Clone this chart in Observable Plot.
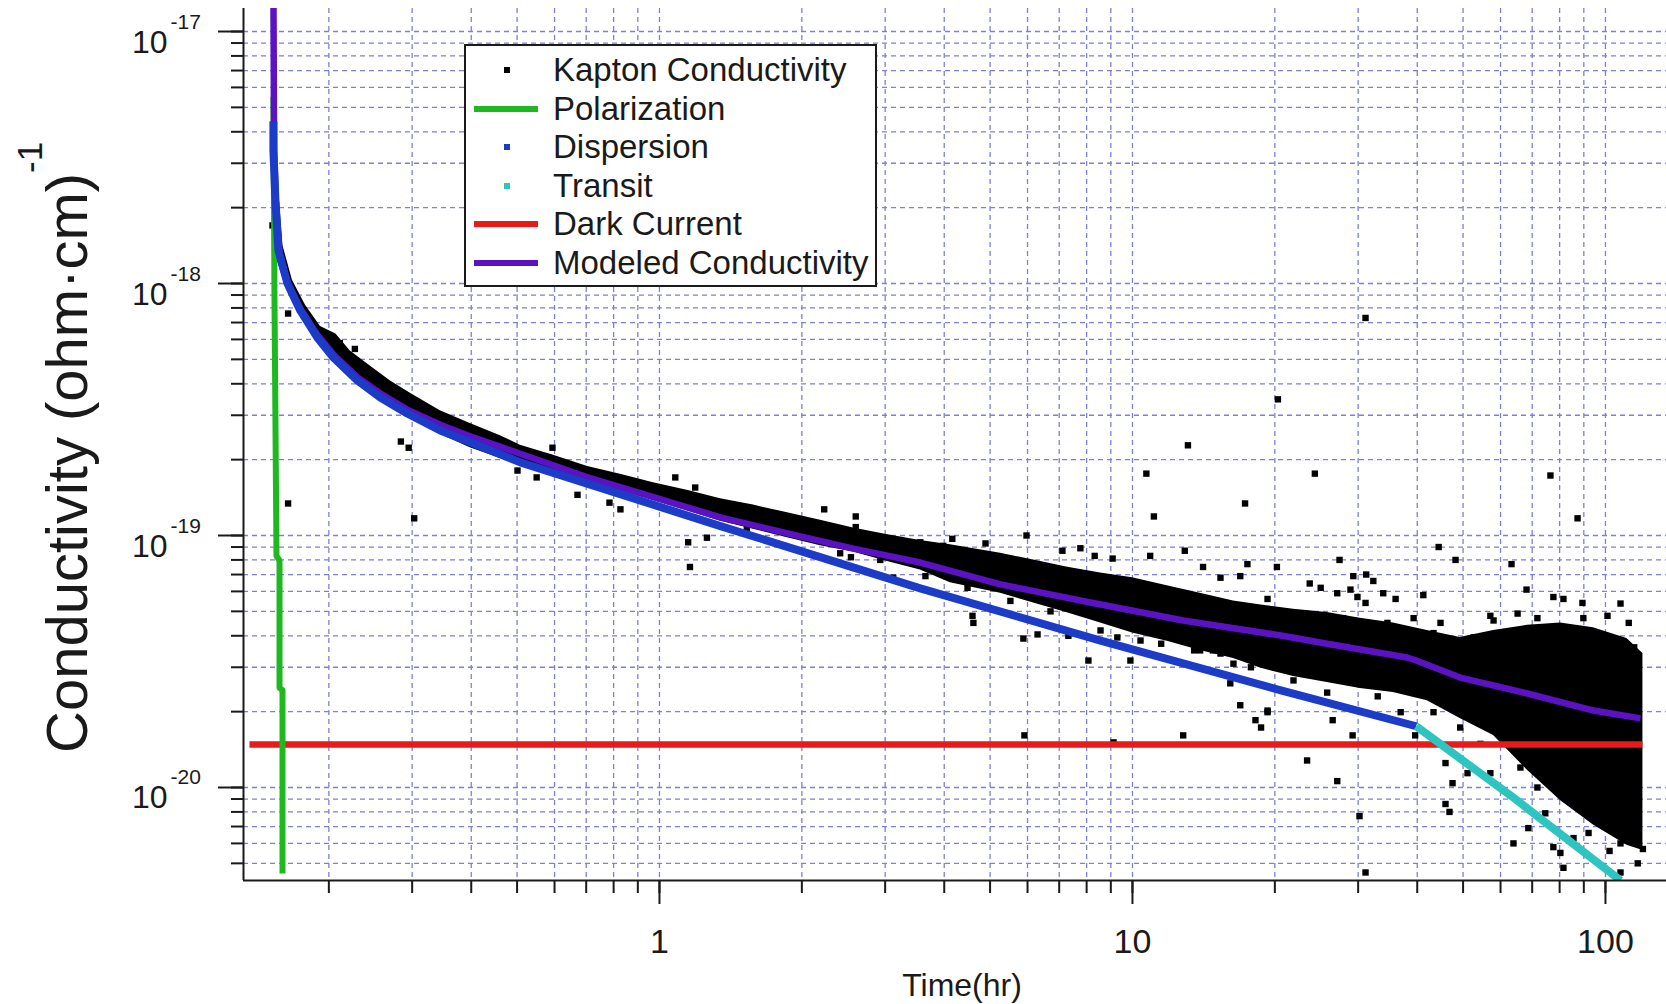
<!DOCTYPE html>
<html>
<head>
<meta charset="utf-8">
<script src="https://cdn.jsdelivr.net/npm/d3@7"></script>
<script src="https://cdn.jsdelivr.net/npm/@observablehq/plot@0.6"></script>
<style>
  html, body { margin: 0; padding: 0; background: #fff; }
  #wrap { position: relative; width: 1666px; height: 1004px; overflow: hidden;
          font-family: "Liberation Sans", Arial, Helvetica, sans-serif; color: #1a1a1a; }
  #legend { position: absolute; left: 464px; top: 44px; width: 413px; height: 243px;
            box-sizing: border-box; border: 2px solid #1a1a1a; background: #fff; }
  .row { position: absolute; left: 0; height: 40px; width: 100%; }
  .lab { position: absolute; left: 87px; top: 0; line-height: 40px; font-size: 33px; white-space: nowrap; }
  .sym-line { position: absolute; left: 8px; top: 17px; width: 64px; height: 6px; }
  .sym-sq { position: absolute; left: 38px; top: 17px; width: 6px; height: 6px; }
</style>
</head>
<body>
<div id="wrap"></div>
<script>
// ---------------- data ----------------
const xDomain = [0.132, 134.6];            // hours
const yDomain = [4.275e-21, 1.234e-17];    // (ohm·cm)^-1

// Kapton conductivity: dense core of the measured cloud (time, lower edge, upper edge)
const kaptonBandTime = [0.155,0.1573,0.160,0.1675,0.1785,0.192,0.207,0.222,0.245,0.270,0.298,0.344,0.398,0.461,0.508,0.597,0.705,0.827,0.971,1.15,1.346,1.58,1.865,2.19,2.57,3.02,3.56,4.12,5.26,6.18,7.25,8.56,10.0,11.9,13.9,16.35,18.7,21.9,25.8,30.3,35.6,42.0,49.3,58.0,68.4,80.3,94.3,111,120];
const kaptonBandHigh = [3.4e-18,2.13e-18,1.41e-18,1.03e-18,8.2e-19,6.75e-19,6.3e-19,5.4e-19,4.7e-19,4.1e-19,3.66e-19,3.13e-19,2.78e-19,2.49e-19,2.28e-19,2.08e-19,1.88e-19,1.75e-19,1.62e-19,1.51e-19,1.40e-19,1.32e-19,1.23e-19,1.15e-19,1.07e-19,1.01e-19,9.55e-20,9.2e-20,8.5e-20,8.0e-20,7.5e-20,7.1e-20,6.8e-20,6.3e-20,5.9e-20,5.5e-20,5.3e-20,5.1e-20,4.95e-20,4.7e-20,4.5e-20,4.2e-20,3.94e-20,4.2e-20,4.4e-20,4.5e-20,4.3e-20,3.9e-20,3.4e-20];
const kaptonBandLow = [1.86e-18,1.33e-18,1.15e-18,9.0e-19,7.1e-19,5.9e-19,4.9e-19,4.35e-19,3.76e-19,3.31e-19,2.91e-19,2.52e-19,2.23e-19,2.02e-19,1.91e-19,1.81e-19,1.62e-19,1.51e-19,1.38e-19,1.25e-19,1.14e-19,1.06e-19,9.8e-20,9.1e-20,8.6e-20,7.9e-20,7.3e-20,6.5e-20,5.9e-20,5.4e-20,4.95e-20,4.5e-20,4.1e-20,3.8e-20,3.5e-20,3.25e-20,2.97e-20,2.76e-20,2.61e-20,2.47e-20,2.38e-20,2.21e-20,1.88e-20,1.61e-20,1.17e-20,8.87e-21,7.1e-21,5.9e-21,5.62e-21];

// Kapton conductivity: individual scattered readings [time, conductivity]
const kaptonPoints = [
  [0.164,7.6e-19],[0.211,5.8e-19],[0.227,5.5e-19],[0.284,2.36e-19],[0.295,2.23e-19],[0.302,3.31e-19],
  [0.433,2.45e-19],[0.594,2.23e-19],[0.501,1.81e-19],[0.152,1.70e-18],[0.164,1.34e-19],[0.303,1.17e-19],
  [0.550,1.70e-19],[0.671,1.45e-19],[0.784,1.35e-19],[0.827,1.27e-19],[1.15,9.4e-20],[1.26,9.8e-20],
  [1.16,7.5e-20],[1.53,1.06e-19],[2.23,1.27e-19],[2.60,1.19e-19],[2.60,1.08e-19],[2.41,8.5e-20],
  [2.54,8.2e-20],[2.93,8.0e-20],[3.12,6.8e-20],[1.08,1.70e-19],[1.19,1.55e-19],
  [13.1,2.28e-19],[10.7,1.76e-19],[11.1,1.19e-19],[17.3,1.34e-19],[5.97,1.0e-19],[4.89,9.3e-20],
  [4.16,9.7e-20],[7.11,8.7e-20],[7.76,8.9e-20],[8.32,8.3e-20],[9.08,8.1e-20],[12.9,8.7e-20],
  [14.1,7.5e-20],[17.5,7.7e-20],[16.9,6.9e-20],[20.2,7.5e-20],
  [4.59,4.8e-20],[4.61,4.5e-20],[5.88,3.9e-20],[6.30,4.05e-20],[8.07,3.19e-20],[9.90,3.19e-20],
  [16.1,2.59e-20],[16.9,2.12e-20],[19.3,1.99e-20],[18.2,1.85e-20],[18.7,1.73e-20],[5.91,1.61e-20],
  [12.8,1.61e-20],[9.12,1.51e-20],[3.65,6.9e-20],[7.32,4.0e-20],[14.8,3.5e-20],[13.9,3.5e-20],
  [31.1,7.3e-19],[20.3,3.47e-19],[24.3,1.76e-19],[76.5,1.73e-19],[87.3,1.17e-19],[44.4,9.0e-20],
  [48.2,8.0e-20],[63.3,7.7e-20],[27.4,8.0e-20],[23.7,6.45e-20],[25.0,6.2e-20],[29.3,6.9e-20],
  [31.2,7.0e-20],[32.3,6.6e-20],[28.9,6.1e-20],[27.1,5.9e-20],[29.9,5.7e-20],[31.1,5.4e-20],
  [33.9,5.9e-20],[36.0,5.6e-20],[41.2,5.8e-20],[68.1,6.1e-20],[77.6,5.7e-20],[81.5,5.6e-20],
  [89.4,5.4e-20],[107.6,5.37e-20],[101,4.8e-20],[112,4.5e-20],[89.8,4.7e-20],[71.8,4.7e-20],
  [65.2,4.9e-20],[57.1,4.8e-20],[44.8,4.5e-20],[39.3,4.7e-20],[19.3,5.6e-20],
  [19.3,2.02e-20],[26.5,1.85e-20],[29.2,1.61e-20],[23.4,1.28e-20],[27.1,1.06e-20],[30.2,7.7e-21],
  [31.1,4.6e-21],[39.6,1.61e-20],[45.9,1.25e-20],[47.5,1.04e-20],[45.9,8.6e-21],[46.8,8.0e-21],
  [51.1,1.14e-20],[57.1,1.14e-20],[63.9,6.0e-21],[68.7,6.9e-21],[81.5,4.8e-21],[117,5.0e-21],
  [107.6,6.0e-21],[102,5.6e-21],[92.1,6.6e-21],[94.3,7.9e-21],[77.6,5.8e-21],[80.3,5.5e-21],
  [85.6,6.3e-21],[74.6,7.9e-21],[115,6.8e-21],[71.8,1.0e-20],[66.1,1.2e-20],[117,1.14e-20],
  [107.6,4.6e-21],[120,5.7e-21],
  [3.56,9.4e-20],[3.98,9.1e-20],[10.9,8.3e-20],[15.35,6.8e-20],[4.48,6.2e-20],[5.52,5.5e-20],
  [6.71,5.0e-20],[8.56,4.2e-20],[9.29,3.94e-20],[10.4,3.83e-20],[11.5,3.72e-20],[12.45,3.94e-20],
  [13.5,3.5e-20],[15.35,3.4e-20],[16.35,3.1e-20],[17.8,3.0e-20],
  [21.9,4.95e-20],[27.9,4.7e-20],[34.6,4.5e-20],[43.3,4.1e-20],[52.6,3.94e-20],[58.0,4.6e-20],
  [76.5,3.94e-20],[94.3,4.1e-20],[115,3.6e-20],[21.9,2.66e-20],[25.8,2.38e-20],[33.0,2.3e-20],
  [36.9,1.99e-20],[43.3,1.99e-20],[49.3,1.73e-20],[54.4,1.49e-20]
];

const polarization = [[0.1527,5.5e-18],[0.1535,8.6e-19],[0.1550,8.3e-20],[0.1573,7.96e-20],[0.1573,2.49e-20],[0.1596,2.43e-20],[0.1596,4.56e-21]];

const dispersion = [[0.1527,4.4e-18],[0.1527,3.37e-18],[0.1542,2.13e-18],[0.1565,1.35e-18],[0.1635,1e-18],[0.174,7.82e-19],[0.189,6.11e-19],[0.2046,5.08e-19],[0.2299,4.12e-19],[0.257,3.53e-19],[0.293,3.05e-19],[0.344,2.61e-19],[0.404,2.32e-19],[0.508,1.95e-19],[1.346,1.09e-19],[3.56,6.17e-20],[8.56,3.83e-20],[20.6,2.43e-20],[39.8,1.75e-20]];

const transit = [[39.8,1.75e-20],[63.0,9.3e-21],[107.6,4.28e-21]];

const darkCurrent = [[0.1359,1.48e-20],[119.7,1.48e-20]];

const modeled = [[0.1527,1.5e-17],[0.1532,3.37e-18],[0.155,1.78e-18],[0.158,1.23e-18],[0.1635,1e-18],[0.174,7.96e-19],[0.189,6.28e-19],[0.2046,5.22e-19],[0.2299,4.24e-19],[0.257,3.66e-19],[0.293,3.16e-19],[0.344,2.75e-19],[0.404,2.45e-19],[0.508,2.11e-19],[0.705,1.70e-19],[0.971,1.42e-19],[1.346,1.18e-19],[1.865,1.02e-19],[2.57,8.87e-20],[3.56,7.81e-20],[5.26,6.4e-20],[8.15,5.42e-20],[12.8,4.60e-20],[20.6,4.01e-20],[25.8,3.72e-20],[38.1,3.28e-20],[39.8,3.19e-20],[49.3,2.73e-20],[68.4,2.36e-20],[94.4,2.02e-20],[118.6,1.88e-20]];

const xMajorTicks = [1, 10, 100];
const xMajorLabels = ["1", "10", "100"];
const yMajorExponents = [-17, -18, -19, -20];
const xLabel = "Time(hr)";
const yLabel = "Conductivity (ohm\u00B7cm)";
const yLabelSup = "-1";
const legendLabels = ["Kapton Conductivity", "Polarization", "Dispersion", "Transit", "Dark Current", "Modeled Conductivity"];

// ---------------- styles ----------------
const FONT = '"Liberation Sans", Arial, Helvetica, sans-serif';
const INK = "#1a1a1a";
const GRID = "#7f7fd4";
const GREEN = "#20b820";
const BLUE = "#1c3cc8";
const CYAN = "#2ec4c0";
const RED = "#e81a1a";
const PURPLE = "#5a12c2";
const legendStyle = [
  {kind: "square", color: "#000"},
  {kind: "line", color: GREEN},
  {kind: "square", color: BLUE},
  {kind: "square", color: CYAN},
  {kind: "line", color: RED},
  {kind: "line", color: PURPLE}
];

// tick positions (decade mantissas 1..9)
const inX = v => v >= xDomain[0] && v <= xDomain[1];
const inY = v => v >= yDomain[0] * 0.999 && v <= yDomain[1];
const xMinor = [];
for (const e of [-1, 0, 1, 2]) for (let m = 1; m <= 9; m++) { const v = m * 10 ** e; if (inX(v)) xMinor.push(v); }
const yMinor = [];
for (const e of [-21, -20, -19, -18, -17]) for (let m = 1; m <= 9; m++) { const v = m * 10 ** e; if (inY(v)) yMinor.push(v); }
const yMajor = yMajorExponents.map(e => 10 ** e);

const band = kaptonBandTime.map((t, i) => ({t, lo: kaptonBandLow[i], hi: kaptonBandHigh[i]}));
const X = d => d[0], Y = d => d[1];

const chart = Plot.plot({
  width: 1666, height: 1004,
  marginLeft: 243, marginRight: 0, marginTop: 8, marginBottom: 124,
  x: {type: "log", domain: xDomain, label: null},
  y: {type: "log", domain: yDomain, label: null},
  style: {fontFamily: FONT, background: "#fff", color: INK, overflow: "visible"},
  marks: [
    Plot.ruleX(xMinor, {stroke: GRID, strokeWidth: 1.3, strokeDasharray: "5,4"}),
    Plot.ruleY(yMinor, {stroke: GRID, strokeWidth: 1.3, strokeDasharray: "5,4"}),
    Plot.areaY(band, {x: "t", y1: "lo", y2: "hi", fill: "#000"}),
    Plot.dot(kaptonPoints, {x: X, y: Y, symbol: "square", r: 3.6, fill: "#000", stroke: "none"}),
    Plot.line(darkCurrent, {x: X, y: Y, stroke: RED, strokeWidth: 6.5, strokeLinecap: "butt"}),
    Plot.line(polarization, {x: X, y: Y, stroke: GREEN, strokeWidth: 6, strokeLinecap: "butt", clip: true}),
    Plot.line(modeled, {x: X, y: Y, stroke: PURPLE, strokeWidth: 6.5, strokeLinecap: "butt", clip: true}),
    Plot.line(dispersion, {x: X, y: Y, stroke: BLUE, strokeWidth: 8, strokeLinecap: "butt", clip: true}),
    Plot.line(transit, {x: X, y: Y, stroke: CYAN, strokeWidth: 8, strokeLinecap: "butt", clip: true}),
    Plot.ruleX([xDomain[0]], {stroke: INK, strokeWidth: 2}),
    Plot.ruleY([yDomain[0]], {stroke: INK, strokeWidth: 2}),
    Plot.axisY(yMinor, {anchor: "left", tickSize: 12, tickFormat: () => "", stroke: INK, strokeWidth: 2, label: null}),
    Plot.axisY(yMajor, {anchor: "left", tickSize: 25, tickFormat: () => "", stroke: INK, strokeWidth: 2, label: null}),
    Plot.axisX(xMinor, {anchor: "bottom", tickSize: 13, tickFormat: () => "", stroke: INK, strokeWidth: 2, label: null}),
    Plot.axisX(xMajorTicks, {anchor: "bottom", tickSize: 24, tickFormat: () => "", stroke: INK, strokeWidth: 2, label: null}),
    Plot.text(yMajorExponents, {y: e => 10 ** e, text: () => "10", frameAnchor: "left", textAnchor: "end",
      lineAnchor: "bottom", dx: -76, dy: 21, fontSize: 32, fill: INK}),
    Plot.text(yMajorExponents, {y: e => 10 ** e, text: e => String(e), frameAnchor: "left", textAnchor: "start",
      lineAnchor: "bottom", dx: -73, dy: -3, fontSize: 21, fill: INK}),
    Plot.text(xMajorTicks, {x: d => d, text: (d, i) => xMajorLabels[i], frameAnchor: "bottom",
      lineAnchor: "bottom", dy: 72, fontSize: 34, fill: INK}),
    Plot.text([xLabel], {text: d => d, frameAnchor: "bottom", lineAnchor: "bottom", dx: 7, dy: 115, fontSize: 32, fill: INK})
  ]
});

// y-axis title with superscript
const svg = d3.select(chart);
const yt = svg.append("text")
  .attr("transform", "translate(87,753) rotate(-90)")
  .attr("text-anchor", "start")
  .attr("font-family", FONT).attr("font-size", 58).attr("fill", INK);
yt.append("tspan").text(yLabel);
yt.append("tspan").attr("font-size", 35).attr("dy", -45).text(yLabelSup);

const wrap = document.getElementById("wrap");
wrap.appendChild(chart);

// legend
const legend = document.createElement("div");
legend.id = "legend";
legendLabels.forEach((label, i) => {
  const row = document.createElement("div");
  row.className = "row";
  row.style.top = (4 + i * 38.6) + "px";
  const s = legendStyle[i];
  const sym = document.createElement("div");
  sym.className = s.kind === "line" ? "sym-line" : "sym-sq";
  sym.style.background = s.color;
  row.appendChild(sym);
  const lab = document.createElement("div");
  lab.className = "lab";
  lab.textContent = label;
  row.appendChild(lab);
  legend.appendChild(row);
});
wrap.appendChild(legend);
</script>
</body>
</html>
